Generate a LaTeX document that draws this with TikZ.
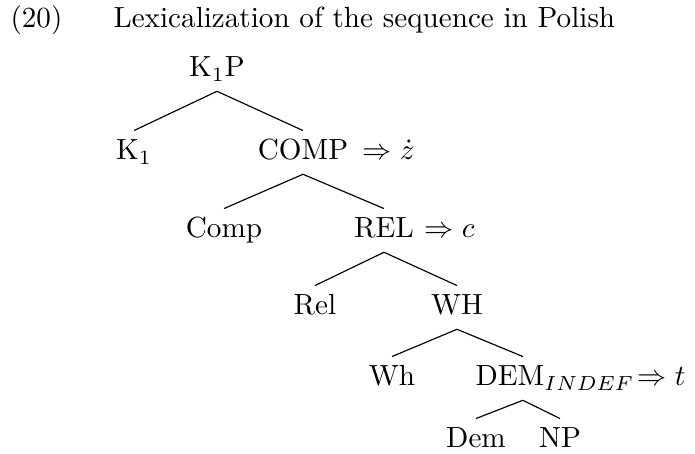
\documentclass[tikz,border=0pt]{standalone}
\begin{document}
\begin{tikzpicture}[x=0.343pt,y=-0.343pt,
  every node/.style={inner sep=0pt,anchor=base},
  cat/.style={inner xsep=0pt,inner ysep=3pt,text height=6.9pt,text depth=1.7pt},
  branch/.style={line width=0.4pt}]
\useasboundingbox (0,0) rectangle (695,454);
% example number and caption
\node[anchor=base west] (num) at (10,28) {(20)};
\node[anchor=base west] (cap) at (113,28) {Lexicalization of the sequence in Polish};
% tree nodes
\node[cat] (k1p) at (217,77) {K$_1$P};
\node[cat] (k1) at (134,160) {K$_1$};
\node[cat] (comp) at (303,160) {COMP};
\node[anchor=base west] (compmap) at (362,160) {$\Rightarrow \dot{z}$};
\node[cat] (compl) at (224,238) {Comp};
\node[cat] (rel) at (384,238) {REL};
\node[anchor=base west] (relmap) at (424,238) {$\Rightarrow c$};
\node[cat] (rell) at (315,315) {Rel};
\node[cat] (wh) at (457,315) {WH};
\node[cat] (whl) at (392,386) {Wh};
\node[cat,anchor=base west] (dem) at (475,386) {DEM$_{INDEF}$};
\node[anchor=base west] (demmap) at (637,386) {$\Rightarrow t$};
\node[cat] (deml) at (476,448) {Dem};
\node[cat] (np) at (560,448) {NP};
% branch point under DEM sits left of its label centre
\coordinate (demtop) at ([xshift=-11pt]dem.south);
% branches
\draw[branch] (k1p.south) -- (k1.north);
\draw[branch] (k1p.south) -- (comp.north);
\draw[branch] (comp.south) -- (compl.north);
\draw[branch] (comp.south) -- (rel.north);
\draw[branch] (rel.south) -- (rell.north);
\draw[branch] (rel.south) -- (wh.north);
\draw[branch] (wh.south) -- (whl.north);
\draw[branch] (wh.south) -- ([xshift=-11pt]dem.north);
\draw[branch] (demtop) -- (deml.north);
\draw[branch] (demtop) -- (np.north);
\end{tikzpicture}
\end{document}
